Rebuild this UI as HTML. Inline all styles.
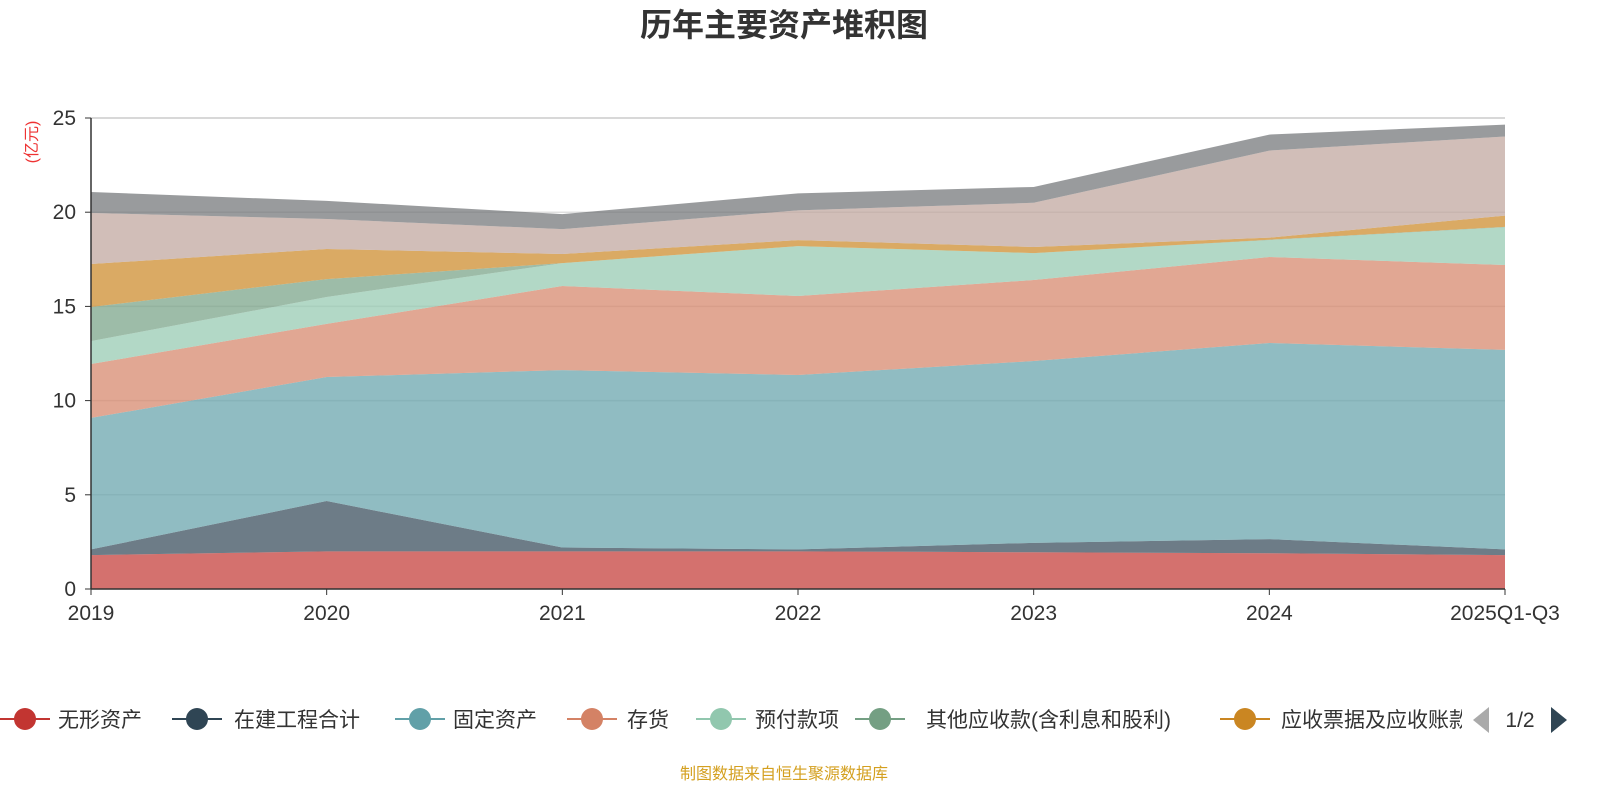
<!DOCTYPE html>
<html><head><meta charset="utf-8"><style>
body{margin:0;width:1600px;height:800px;background:#fff;overflow:hidden;font-family:"Liberation Sans","Noto Sans CJK SC",sans-serif}
</style></head><body>
<svg id="c" width="1600" height="800" xmlns="http://www.w3.org/2000/svg" style="font-family:'Liberation Sans','Noto Sans CJK SC',sans-serif"></svg>
<script>
const categories=["2019","2020","2021","2022","2023","2024","2025Q1-Q3"];
const seriesNames=["无形资产","在建工程合计","固定资产","存货","预付款项","其他应收款(含利息和股利)","应收票据及应收账款","其他1","其他2"];
const s1=[1.8,2.0,2.0,2.0,1.95,1.9,1.8];
const s2=[0.3,2.67,0.2,0.1,0.5,0.75,0.3];
const s3=[6.98,6.58,9.42,9.26,9.65,10.41,10.59];
const s4=[2.86,2.82,4.46,4.19,4.3,4.56,4.51];
const s5=[1.22,1.43,1.22,2.65,1.43,0.9,2.0];
const s6=[1.81,0.95,0,0,0,0.02,0.02];
const s7=[2.28,1.6,0.48,0.32,0.32,0.11,0.6];
const s8=[2.71,1.59,1.32,1.58,2.35,4.62,4.2];
const s9=[1.11,0.96,0.8,0.9,0.84,0.85,0.63];
const yTicks=[0,5,10,15,20,25];
const colors=["#c23531","#2f4554","#61a0a8","#d48265","#91c7ae","#749f83","#ca8622","#bda29a","#6e7074"];
const series=[s1,s2,s3,s4,s5,s6,s7,s8,s9];
const svg=document.getElementById('c');const NS="http://www.w3.org/2000/svg";
function el(t,a,p){const e=document.createElementNS(NS,t);for(const k in a)e.setAttribute(k,a[k]);(p||svg).appendChild(e);return e;}
const x0=91,x1=1505,yb=589,yt=118,ymax=25;
const X=i=>x0+(x1-x0)*i/(categories.length-1);
const Y=v=>yb-(yb-yt)*v/ymax;
let t=el('text',{x:784,y:36,'text-anchor':'middle','font-size':32,'font-weight':'bold',fill:'#333'});t.textContent="历年主要资产堆积图";

yTicks.forEach(v=>{const g=el('line',{x1:x0,x2:x1,y1:Y(v),y2:Y(v),stroke:v==25?'#ccc':'#e0e0e0','stroke-width':1.5});

const l=el('text',{x:76,y:Y(v)+7,'text-anchor':'end','font-size':21,fill:'#333'});l.textContent=v;

el('line',{x1:x0-6,x2:x0,y1:Y(v),y2:Y(v),stroke:'#333'});});
let cum=categories.map(()=>0);
series.forEach((s,k)=>{const lo=cum.slice();cum=cum.map((c,i)=>c+s[i]);
let d="M"+categories.map((_,i)=>X(i)+","+Y(cum[i])).join("L");
for(let i=categories.length-1;i>=0;i--)d+="L"+X(i)+","+Y(lo[i]);d+="Z";
const p=el('path',{d:d,fill:colors[k],'fill-opacity':0.7,stroke:'none'});
});
el('line',{x1:x0,x2:x0,y1:yt,y2:yb,stroke:'#333','stroke-width':1.5});
el('line',{x1:x0,x2:x1,y1:yb,y2:yb,stroke:'#333','stroke-width':1.5});
categories.forEach((c,i)=>{el('line',{x1:X(i),x2:X(i),y1:yb,y2:yb+6,stroke:'#333'});
const l=el('text',{x:X(i),y:620,'text-anchor':'middle','font-size':21,fill:'#333'});l.textContent=c;
});
const u=el('text',{transform:'translate(37,142) rotate(-90)','text-anchor':'middle','font-size':16,fill:'#e33'});u.textContent="(亿元)";

const leg=[[25,58],[197,234],[420,453],[592,627],[721,755],[880,926],[1245,1281]];
const lg=el('g',{});
el('clipPath',{id:'lc'}).appendChild(el('rect',{x:0,y:690,width:1462,height:60}));
const lgi=el('g',{'clip-path':'url(#lc)'},lg);
leg.forEach((p,k)=>{const g=el('g',{},lgi);
el('line',{x1:p[0]-25,x2:p[0]+25,y1:719,y2:719,stroke:colors[k],'stroke-width':2},g);
el('circle',{cx:p[0],cy:719,r:11,fill:colors[k]},g);
const tt=el('text',{x:p[1],y:727,'font-size':21,fill:'#333'},g);tt.textContent=seriesNames[k];});
let a=el('path',{d:'M1489,707L1489,733L1473,720Z',fill:'#aaa'});
let pt=el('text',{x:1520,y:727,'text-anchor':'middle','font-size':21,fill:'#333'});pt.textContent="1/2";
a=el('path',{d:'M1551,707L1551,733L1567,720Z',fill:'#2f4554'});
let s=el('text',{x:784,y:779,'text-anchor':'middle','font-size':16,fill:'#d4a020'});s.textContent="制图数据来自恒生聚源数据库";

</script></body></html>
